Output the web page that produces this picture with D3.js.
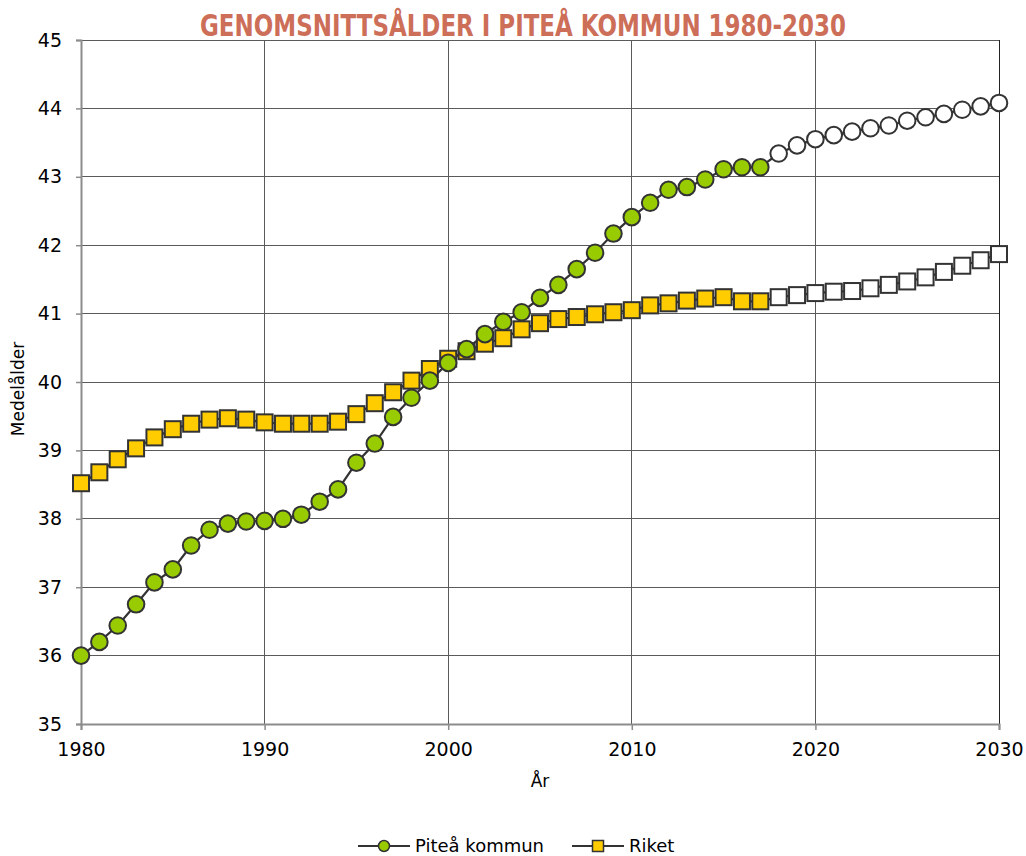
<!DOCTYPE html>
<html>
<head>
<meta charset="utf-8">
<script src="https://cdn.jsdelivr.net/npm/d3@7"></script>
<style>
  body { margin: 0; background: #fff; }
  svg { display: block; font-family: 'DejaVu Sans', sans-serif; }
</style>
</head>
<body>
<script>
// years 1980-2030, values
var years = d3.range(1980, 2031);
var lastObserved = 2017;

var pitea = [
    36.00, 36.20, 36.44, 36.75, 37.07, 37.26, 37.61, 37.84, 37.93, 37.96,
    37.97, 38.00, 38.06, 38.25, 38.43, 38.82, 39.10, 39.49, 39.77, 40.02,
    40.28, 40.48, 40.70, 40.88, 41.02, 41.23, 41.42, 41.65, 41.89, 42.17,
    42.41, 42.62, 42.81, 42.85, 42.96, 43.11, 43.14, 43.14,
    43.34, 43.46, 43.55, 43.61, 43.66, 43.71, 43.75, 43.82, 43.87, 43.92,
    43.98, 44.03, 44.08
];

var riket = [
    38.52, 38.68, 38.87, 39.03, 39.19, 39.31, 39.39, 39.45, 39.47, 39.45,
    39.41, 39.39, 39.39, 39.39, 39.42, 39.53, 39.69, 39.85, 40.02, 40.19,
    40.34, 40.45, 40.56, 40.64, 40.77, 40.86, 40.92, 40.95, 40.99, 41.02,
    41.05, 41.12, 41.15, 41.19, 41.22, 41.24, 41.18, 41.18,
    41.24, 41.27, 41.30, 41.32, 41.33, 41.37, 41.42, 41.47, 41.53, 41.61,
    41.70, 41.78, 41.87
];

var xTicks = [1980, 1990, 2000, 2010, 2020, 2030];
var yTicks = d3.range(35, 46);

var width = 1026,
    height = 856,
    margin = { top: 40, right: 27, bottom: 132, left: 81 },
    lineColor = '#333333',
    greenFill = '#99cc00',
    yellowFill = '#ffcc00',
    tickFont = "'DejaVu Sans', sans-serif";

var svg = d3.select('body').append('svg')
    .attr('width', width)
    .attr('height', height);

var x = d3.scaleLinear()
    .domain([1980, 2030])
    .range([margin.left, width - margin.right]);

var y = d3.scaleLinear()
    .domain([35, 45])
    .range([height - margin.bottom, margin.top]);

// grid
svg.append('g')
    .selectAll('line')
    .data(yTicks.slice(1))
    .enter().append('line')
    .attr('x1', x(1980)).attr('x2', x(2030))
    .attr('y1', function(d) { return y(d); })
    .attr('y2', function(d) { return y(d); })
    .attr('stroke', '#5a5a5a')
    .attr('stroke-width', 1)
    .attr('shape-rendering', 'crispEdges');

svg.append('g')
    .selectAll('line')
    .data(xTicks.slice(1))
    .enter().append('line')
    .attr('y1', y(35)).attr('y2', y(45))
    .attr('x1', function(d) { return x(d); })
    .attr('x2', function(d) { return x(d); })
    .attr('stroke', function(d) { return d === 2030 ? '#222' : '#5a5a5a'; })
    .attr('stroke-width', 1)
    .attr('shape-rendering', 'crispEdges');

// axes
var xAxis = svg.append('g')
    .attr('transform', 'translate(0,' + y(35) + ')')
    .call(d3.axisBottom(x).tickValues(xTicks).tickFormat(d3.format('d')).tickSize(6));

var yAxis = svg.append('g')
    .attr('transform', 'translate(' + x(1980) + ',0)')
    .call(d3.axisLeft(y).tickValues(yTicks).tickSize(5).tickPadding(14));

[xAxis, yAxis].forEach(function(ax) {
    ax.select('.domain').attr('stroke', '#8c8c8c').attr('stroke-width', 2);
    ax.selectAll('.tick line').attr('stroke', '#8c8c8c').attr('stroke-width', 1.5);
    ax.selectAll('.tick text')
        .attr('fill', '#000')
        .style('font-size', '19px')
        .style('font-family', tickFont);
});
xAxis.selectAll('.tick text').attr('y', 32).attr('dy', 0);

// axis titles
svg.append('text')
    .attr('x', 540)
    .attr('y', 787)
    .attr('text-anchor', 'middle')
    .style('font-size', '17px')
    .text('År');

svg.append('text')
    .attr('transform', 'translate(24,' + 389 + ') rotate(-90)')
    .attr('text-anchor', 'middle')
    .style('font-size', '17px')
    .text('Medelålder');

// title
svg.append('text')
    .attr('x', 200)
    .attr('y', 36)
    .attr('fill', '#cd6e58')
    .attr('textLength', 646)
    .attr('lengthAdjust', 'spacingAndGlyphs')
    .style('font-family', "'DejaVu Sans Condensed', 'DejaVu Sans', sans-serif")
    .style('font-weight', 'bold')
    .style('font-size', '31px')
    .text('GENOMSNITTSÅLDER I PITEÅ KOMMUN 1980-2030');

// series
var line = d3.line()
    .x(function(d) { return x(d.year); })
    .y(function(d) { return y(d.value); });

function toPoints(values) {
    return years.map(function(yr, i) { return { year: yr, value: values[i] }; });
}

var piteaPts = toPoints(pitea),
    riketPts = toPoints(riket);

[piteaPts, riketPts].forEach(function(pts) {
    svg.append('path')
        .datum(pts)
        .attr('d', line)
        .attr('fill', 'none')
        .attr('stroke', lineColor)
        .attr('stroke-width', 2.2);
});

var sq = 16;

svg.append('g')
    .selectAll('rect')
    .data(riketPts)
    .enter().append('rect')
    .attr('x', function(d) { return x(d.year) - sq / 2; })
    .attr('y', function(d) { return y(d.value) - sq / 2; })
    .attr('width', sq)
    .attr('height', sq)
    .attr('fill', function(d) { return d.year > lastObserved ? '#fff' : yellowFill; })
    .attr('stroke', lineColor)
    .attr('stroke-width', 2);

svg.append('g')
    .selectAll('circle')
    .data(piteaPts)
    .enter().append('circle')
    .attr('cx', function(d) { return x(d.year); })
    .attr('cy', function(d) { return y(d.value); })
    .attr('r', 8.3)
    .attr('fill', function(d) { return d.year > lastObserved ? '#fff' : greenFill; })
    .attr('stroke', lineColor)
    .attr('stroke-width', 2);

// legend
var legendData = [
    { text: 'Piteå kommun', symbol: 'circle', color: greenFill, x: 358 },
    { text: 'Riket', symbol: 'square', color: yellowFill, x: 572 }
];

var lg = svg.append('g')
    .selectAll('g')
    .data(legendData)
    .enter().append('g')
    .attr('transform', function(d) { return 'translate(' + d.x + ',846)'; });

lg.append('line')
    .attr('x1', 0).attr('x2', 52)
    .attr('stroke', lineColor)
    .attr('stroke-width', 2);

lg.each(function(d) {
    var g = d3.select(this);
    if (d.symbol === 'circle') {
        g.append('circle').attr('cx', 26).attr('r', 5.5)
            .attr('fill', d.color).attr('stroke', lineColor).attr('stroke-width', 1.5);
    } else {
        g.append('rect').attr('x', 20.5).attr('y', -5.5).attr('width', 11).attr('height', 11)
            .attr('fill', d.color).attr('stroke', lineColor).attr('stroke-width', 1.5);
    }
});

lg.append('text')
    .attr('x', 57)
    .attr('dy', '0.35em')
    .style('font-size', '18px')
    .style('font-family', tickFont)
    .text(function(d) { return d.text; });
</script>
</body>
</html>
